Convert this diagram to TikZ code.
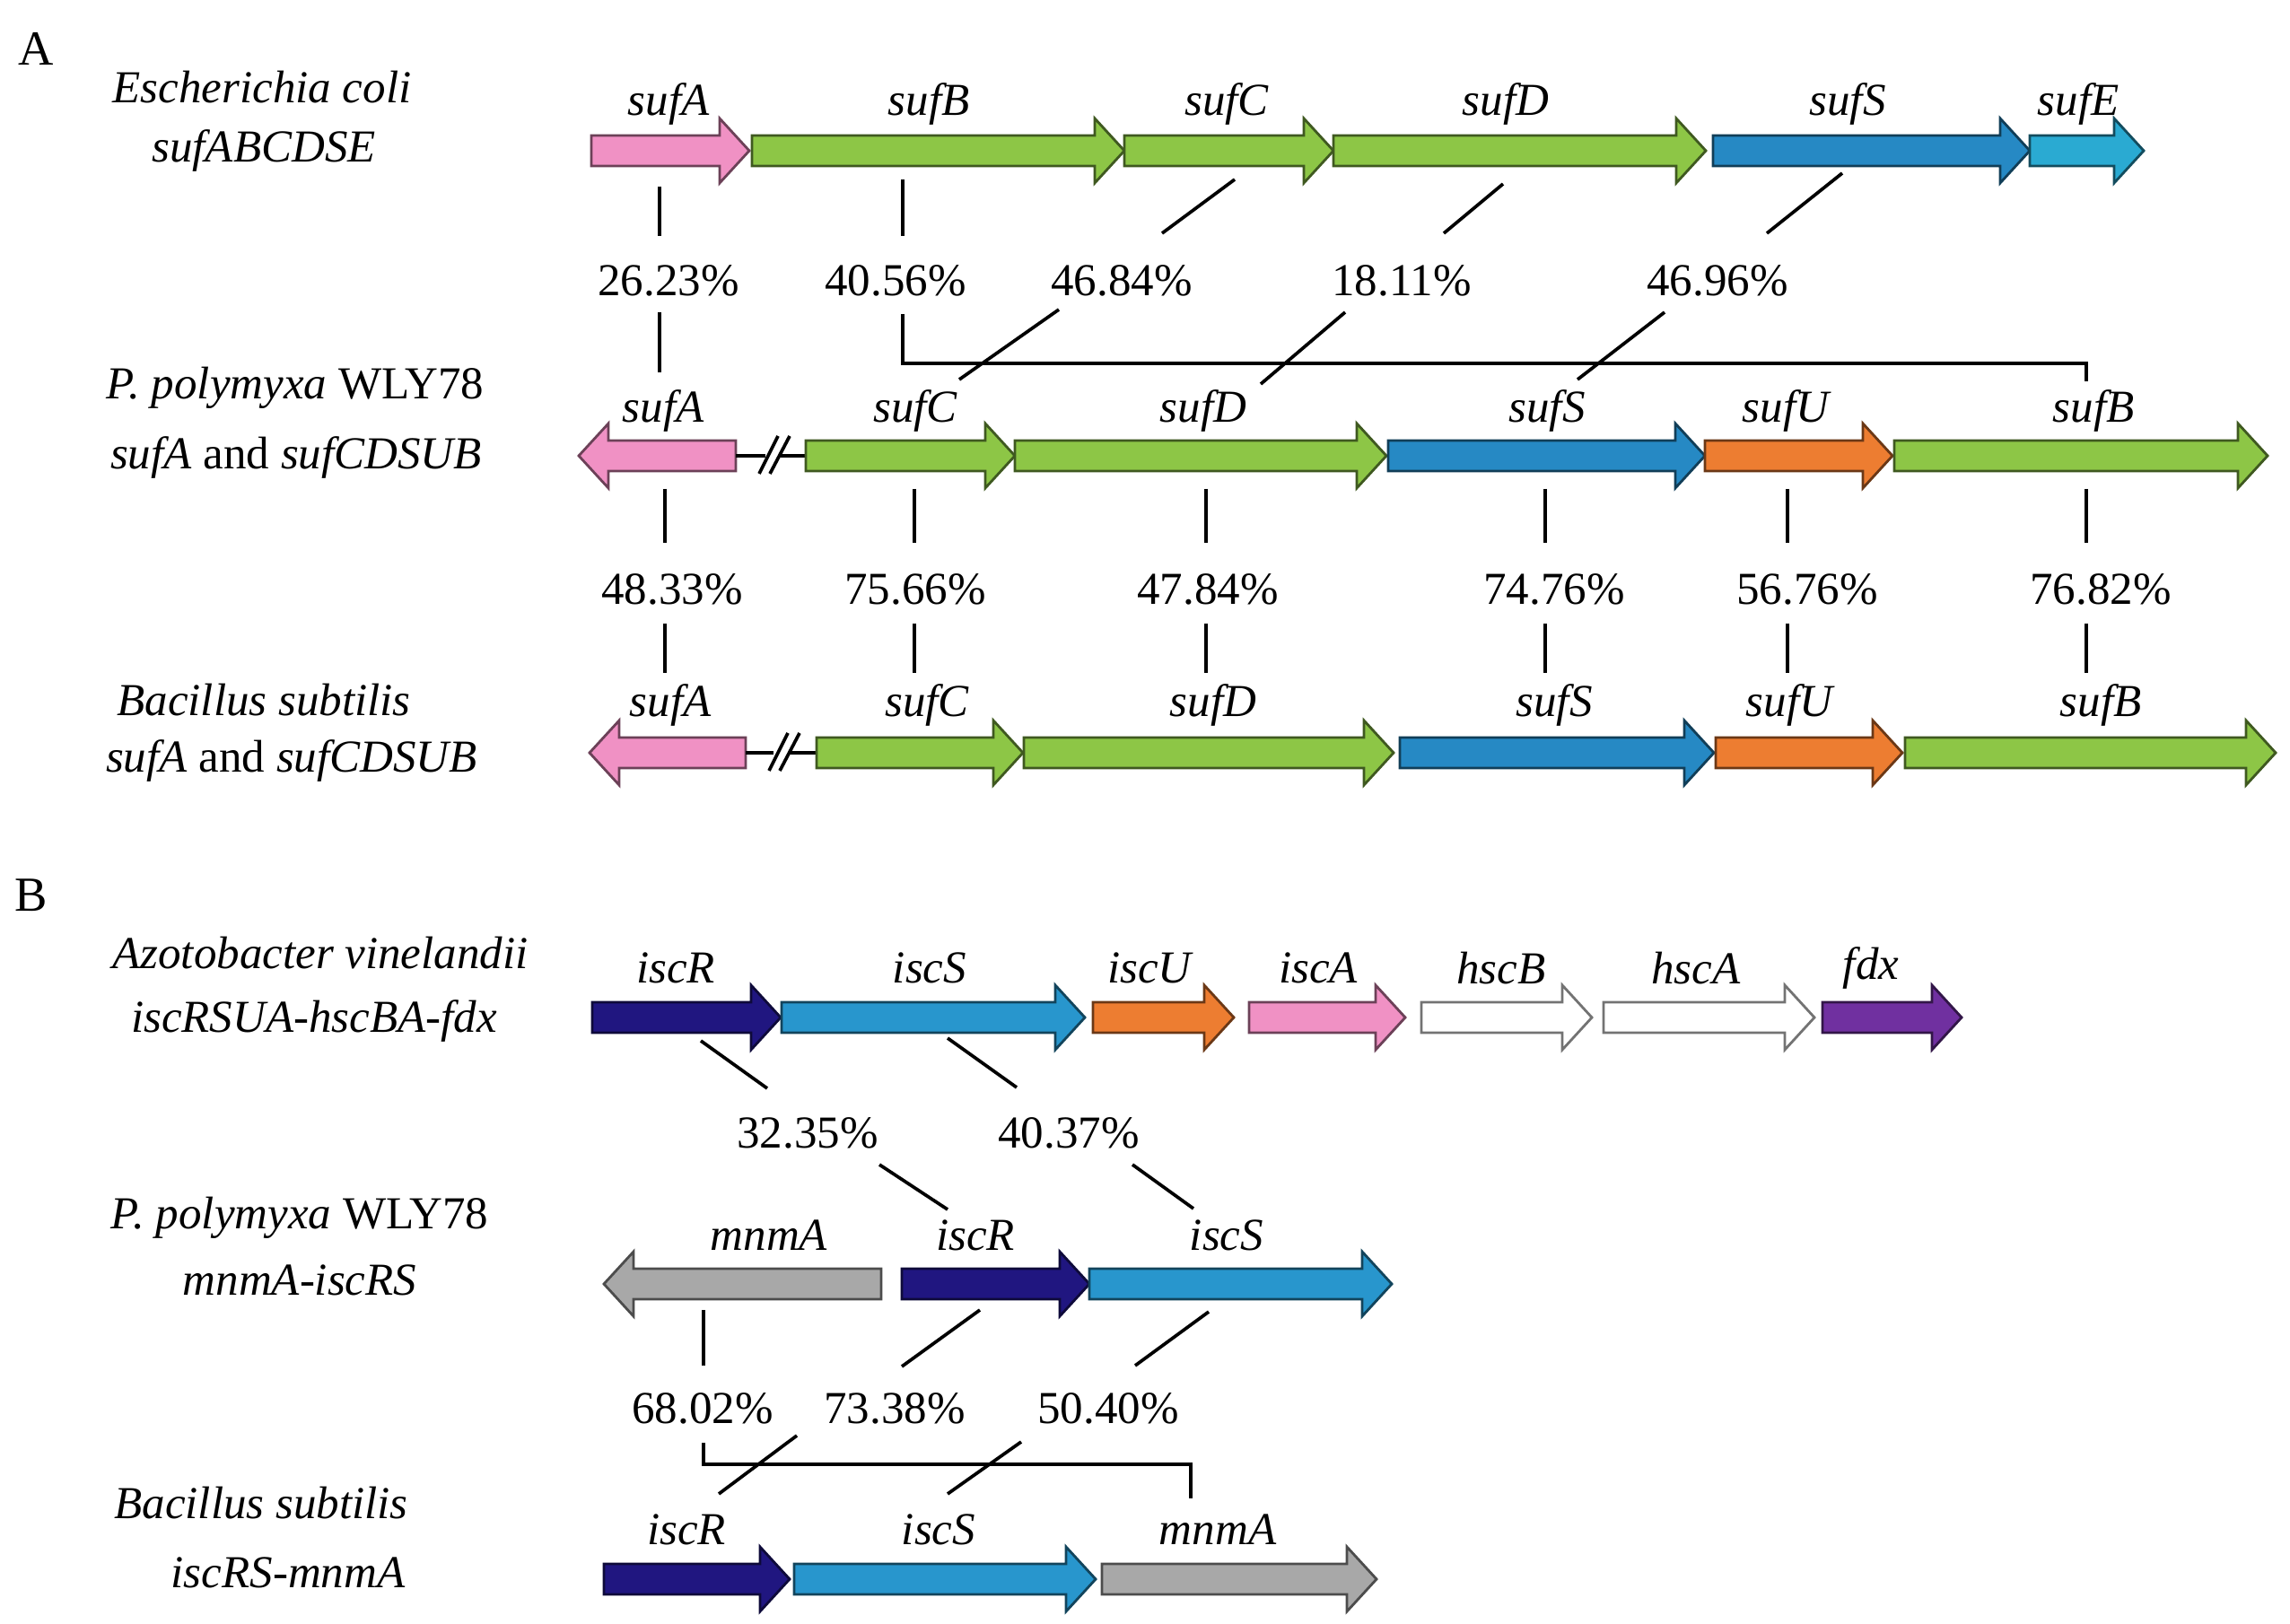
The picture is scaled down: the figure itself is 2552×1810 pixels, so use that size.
\documentclass[tikz,border=0pt]{standalone}
\usepackage{fontspec}
\setmainfont{Liberation Serif}

\definecolor{genepink}{RGB}{240,145,196}
\definecolor{genegreen}{RGB}{141,198,70}
\definecolor{geneblue}{RGB}{38,137,196}
\definecolor{genecyan}{RGB}{42,170,210}
\definecolor{genesky}{RGB}{40,150,205}
\definecolor{genenavy}{RGB}{32,22,128}
\definecolor{geneorange}{RGB}{237,125,49}
\definecolor{genegray}{RGB}{168,168,168}
\definecolor{genepurple}{RGB}{112,48,160}

% gene arrows: start, end, row, colour
\newcommand{\rgene}[4]{%
  \filldraw[gene, fill=#4, draw=#4!45!black] (#1,#3-17) -- (#2-33,#3-17) -- (#2-33,#3-36) -- (#2,#3)
    -- (#2-33,#3+36) -- (#2-33,#3+17) -- (#1,#3+17) -- cycle;}
\newcommand{\lgene}[4]{%
  \filldraw[gene, fill=#4, draw=#4!45!black] (#1,#3) -- (#1+33,#3-36) -- (#1+33,#3-17) -- (#2,#3-17)
    -- (#2,#3+17) -- (#1+33,#3+17) -- (#1+33,#3+36) -- cycle;}

\begin{document}
\begin{tikzpicture}[x=0.01cm,y=-0.01cm,
    gene/.style={line width=0.8pt},
    glab/.style={font=\fontsize{14.5}{17}\selectfont\itshape},
    pct/.style={font=\fontsize{14.5}{17}\selectfont},
    org/.style={font=\fontsize{14.5}{17}\selectfont},
    panel/.style={font=\fontsize{15.5}{18}\selectfont},
    link/.style={line width=1.05pt}]
\useasboundingbox (0,0) rectangle (2552,1810);

%% Panel A
\node[panel] (pa) at (40,55) {A};

    \node[org] (ec1) at (292,97) {\itshape Escherichia coli};
    \node[org] (ec2) at (294,168) {\itshape sufABCDSE};
    \node[org] (pp1) at (329,432) {\textit{P. polymyxa} WLY78};
    \node[org] (pp2) at (330,510) {\textit{sufA} and \textit{sufCDSUB}};
    \node[org] (bs1) at (294,780) {\itshape Bacillus subtilis};
    \node[org] (bs2) at (325,848) {\textit{sufA} and \textit{sufCDSUB}};

% E. coli
\rgene{659}{835}{168}{genepink}
\rgene{838}{1253}{168}{genegreen}
\rgene{1253}{1486}{168}{genegreen}
\rgene{1486}{1901}{168}{genegreen}
\rgene{1909}{2262}{168}{geneblue}
\rgene{2262}{2389}{168}{genecyan}
    \node[glab] (eA) at (745,116) {sufA};
    \node[glab] (eB) at (1035,116) {sufB};
    \node[glab] (eC) at (1367,116) {sufC};
    \node[glab] (eD) at (1678,116) {sufD};
    \node[glab] (eS) at (2059,116) {sufS};
    \node[glab] (eE) at (2316,116) {sufE};

% P. polymyxa
\lgene{645}{820}{508}{genepink}
\draw[link] (820,508) -- (853,508);
\draw[link] (870,508) -- (898,508);
\draw[link] (846,528) -- (867,486);
\draw[link] (858,528) -- (880,486);
\rgene{898}{1131}{508}{genegreen}
\rgene{1131}{1545}{508}{genegreen}
\rgene{1547}{1900}{508}{geneblue}
\rgene{1900}{2109}{508}{geneorange}
\rgene{2111}{2527}{508}{genegreen}
    \node[glab] (mA) at (739,458) {sufA};
    \node[glab] (mC) at (1020,458) {sufC};
    \node[glab] (mD) at (1341,458) {sufD};
    \node[glab] (mS) at (1724,458) {sufS};
    \node[glab] (mU) at (1990,458) {sufU};
    \node[glab] (mB) at (2333,458) {sufB};

% B. subtilis
\lgene{657}{831}{839}{genepink}
\draw[link] (831,839) -- (862,839);
\draw[link] (881,839) -- (910,839);
\draw[link] (857,859) -- (878,817);
\draw[link] (869,859) -- (891,817);
\rgene{910}{1140}{839}{genegreen}
\rgene{1141}{1553}{839}{genegreen}
\rgene{1560}{1910}{839}{geneblue}
\rgene{1912}{2120}{839}{geneorange}
\rgene{2123}{2536}{839}{genegreen}
    \node[glab] (bA) at (747,786) {sufA};
    \node[glab] (bC) at (1033,786) {sufC};
    \node[glab] (bD) at (1352,786) {sufD};
    \node[glab] (bS) at (1732,786) {sufS};
    \node[glab] (bU) at (1994,786) {sufU};
    \node[glab] (bB) at (2341,786) {sufB};

% identities E. coli / P. polymyxa
    \node[pct] (p1) at (745,313) {26.23\%};
    \node[pct] (p2) at (998,313) {40.56\%};
    \node[pct] (p3) at (1250,313) {46.84\%};
    \node[pct] (p4) at (1562,313) {18.11\%};
    \node[pct] (p5) at (1914,313) {46.96\%};
\coordinate (p1a) at (735,208); \coordinate (p1b) at (735,263);
\coordinate (p1c) at (735,348); \coordinate (p1d) at (735,415);
\coordinate (p2a) at (1006,200); \coordinate (p2b) at (1006,263);
\coordinate (p2c) at (1006,350); \coordinate (p2d) at (2325,425);
\coordinate (p3a) at (1376,200); \coordinate (p3b) at (1295,260);
\coordinate (p3c) at (1180,345); \coordinate (p3d) at (1069,423);
\coordinate (p4a) at (1675,205); \coordinate (p4b) at (1609,260);
\coordinate (p4c) at (1499,348); \coordinate (p4d) at (1405,428);
\coordinate (p5a) at (2053,193); \coordinate (p5b) at (1969,260);
\coordinate (p5c) at (1855,348); \coordinate (p5d) at (1758,423);
\draw[link] (p1a) -- (p1b); \draw[link] (p1c) -- (p1d);
\draw[link] (p2a) -- (p2b); \draw[link] (p2c) |- (p2d |- 0,405) -- (p2d);
\draw[link] (p3a) -- (p3b); \draw[link] (p3c) -- (p3d);
\draw[link] (p4a) -- (p4b); \draw[link] (p4c) -- (p4d);
\draw[link] (p5a) -- (p5b); \draw[link] (p5c) -- (p5d);

% identities P. polymyxa / B. subtilis
    \node[pct] (q1) at (749,657) {48.33\%};
    \node[pct] (q2) at (1020,657) {75.66\%};
    \node[pct] (q3) at (1346,657) {47.84\%};
    \node[pct] (q4) at (1732,657) {74.76\%};
    \node[pct] (q5) at (2014,657) {56.76\%};
    \node[pct] (q6) at (2341,657) {76.82\%};
\coordinate (q1a) at (741,545); \coordinate (q1b) at (741,605);
\coordinate (q1c) at (741,695); \coordinate (q1d) at (741,750);
\coordinate (q2a) at (1019,545); \coordinate (q2b) at (1019,605);
\coordinate (q2c) at (1019,695); \coordinate (q2d) at (1019,750);
\coordinate (q3a) at (1344,545); \coordinate (q3b) at (1344,605);
\coordinate (q3c) at (1344,695); \coordinate (q3d) at (1344,750);
\coordinate (q4a) at (1722,545); \coordinate (q4b) at (1722,605);
\coordinate (q4c) at (1722,695); \coordinate (q4d) at (1722,750);
\coordinate (q5a) at (1992,545); \coordinate (q5b) at (1992,605);
\coordinate (q5c) at (1992,695); \coordinate (q5d) at (1992,750);
\coordinate (q6a) at (2325,545); \coordinate (q6b) at (2325,605);
\coordinate (q6c) at (2325,695); \coordinate (q6d) at (2325,750);
\draw[link] (q1a) -- (q1b); \draw[link] (q1c) -- (q1d);
\draw[link] (q2a) -- (q2b); \draw[link] (q2c) -- (q2d);
\draw[link] (q3a) -- (q3b); \draw[link] (q3c) -- (q3d);
\draw[link] (q4a) -- (q4b); \draw[link] (q4c) -- (q4d);
\draw[link] (q5a) -- (q5b); \draw[link] (q5c) -- (q5d);
\draw[link] (q6a) -- (q6b); \draw[link] (q6c) -- (q6d);

%% Panel B
\node[panel] (pb) at (35,998) {B};

    \node[org] (av1) at (357,1062) {\itshape Azotobacter vinelandii};
    \node[org] (av2) at (350,1138) {\itshape iscRSUA-hscBA-fdx};
    \node[org] (pq1) at (334,1357) {\textit{P. polymyxa} WLY78};
    \node[org] (pq2) at (334,1427) {\itshape mnmA-iscRS};
    \node[org] (bt1) at (291,1675) {\itshape Bacillus subtilis};
    \node[org] (bt2) at (321,1753) {\itshape iscRS-mnmA};

% A. vinelandii
\rgene{660}{870}{1134}{genenavy}
\rgene{871}{1209}{1134}{genesky}
\rgene{1218}{1375}{1134}{geneorange}
\rgene{1392}{1566}{1134}{genepink}
\rgene{1584}{1774}{1134}{white}
\rgene{1787}{2022}{1134}{white}
\rgene{2031}{2186}{1134}{genepurple}
    \node[glab] (vR) at (753,1079) {iscR};
    \node[glab] (vS) at (1036,1079) {iscS};
    \node[glab] (vU) at (1281,1079) {iscU};
    \node[glab] (vA) at (1469,1079) {iscA};
    \node[glab] (vB) at (1673,1079) {hscB};
    \node[glab] (vH) at (1890,1079) {hscA};
    \node[glab] (vF) at (2085,1079) {fdx};

% P. polymyxa
\lgene{673}{982}{1431}{genegray}
\rgene{1005}{1214}{1431}{genenavy}
\rgene{1214}{1551}{1431}{genesky}
    \node[glab] (wM) at (857,1377) {mnmA};
    \node[glab] (wR) at (1087,1377) {iscR};
    \node[glab] (wS) at (1367,1377) {iscS};

% B. subtilis
\rgene{673}{880}{1760}{genenavy}
\rgene{885}{1221}{1760}{genesky}
\rgene{1228}{1534}{1760}{genegray}
    \node[glab] (xR) at (765,1705) {iscR};
    \node[glab] (xS) at (1046,1705) {iscS};
    \node[glab] (xM) at (1357,1705) {mnmA};

% identities A. vinelandii / P. polymyxa
    \node[pct] (r1) at (900,1263) {32.35\%};
    \node[pct] (r2) at (1191,1263) {40.37\%};
\coordinate (r1a) at (781,1160); \coordinate (r1b) at (855,1213);
\coordinate (r1c) at (980,1298); \coordinate (r1d) at (1056,1348);
\coordinate (r2a) at (1056,1157); \coordinate (r2b) at (1133,1212);
\coordinate (r2c) at (1262,1298); \coordinate (r2d) at (1330,1347);
\draw[link] (r1a) -- (r1b); \draw[link] (r1c) -- (r1d);
\draw[link] (r2a) -- (r2b); \draw[link] (r2c) -- (r2d);

% identities P. polymyxa / B. subtilis
    \node[pct] (s1) at (783,1570) {68.02\%};
    \node[pct] (s2) at (997,1570) {73.38\%};
    \node[pct] (s3) at (1235,1570) {50.40\%};
\coordinate (s1a) at (784,1460); \coordinate (s1b) at (784,1522);
\coordinate (s1c) at (784,1608); \coordinate (s1d) at (1327,1670);
\coordinate (s2a) at (1092,1460); \coordinate (s2b) at (1005,1523);
\coordinate (s2c) at (888,1600); \coordinate (s2d) at (801,1665);
\coordinate (s3a) at (1347,1462); \coordinate (s3b) at (1265,1522);
\coordinate (s3c) at (1138,1607); \coordinate (s3d) at (1056,1665);
\draw[link] (s1a) -- (s1b); \draw[link] (s1c) |- (s1d |- 0,1632) -- (s1d);
\draw[link] (s2a) -- (s2b); \draw[link] (s2c) -- (s2d);
\draw[link] (s3a) -- (s3b); \draw[link] (s3c) -- (s3d);
\end{tikzpicture}
\end{document}
